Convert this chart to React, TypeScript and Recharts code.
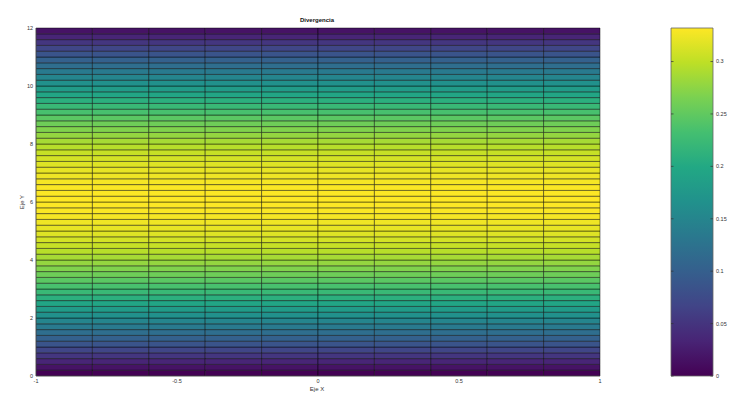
import React from 'react';
import { ComposedChart, XAxis, YAxis, ReferenceArea, ReferenceLine, Scatter } from 'recharts';

const X_EDGES = [-1, -0.8, -0.6, -0.4, -0.2, 0, 0.2, 0.4, 0.6, 0.8, 1];
const Y_EDGES = [
  0, 0.2, 0.4, 0.6, 0.8, 1, 1.2, 1.4, 1.6, 1.8, 2, 2.2, 2.4, 2.6, 2.8, 3, 3.2, 3.4, 3.6, 3.8,
  4, 4.2, 4.4, 4.6, 4.8, 5, 5.2, 5.4, 5.6, 5.8, 6, 6.2, 6.4, 6.6, 6.8, 7, 7.2, 7.4, 7.6, 7.8,
  8, 8.2, 8.4, 8.6, 8.8, 9, 9.2, 9.4, 9.6, 9.8, 10, 10.2, 10.4, 10.6, 10.8, 11, 11.2, 11.4, 11.6, 11.8, 12,
];
// divergence value per row (same for every column)
const ROW_VALUES = [
  0, 0.0174, 0.0347, 0.0519, 0.069, 0.0859, 0.1026, 0.119, 0.135, 0.1507,
  0.166, 0.1808, 0.1951, 0.2089, 0.2221, 0.2348, 0.2467, 0.258, 0.2686, 0.2784,
  0.2875, 0.2958, 0.3033, 0.31, 0.3158, 0.3207, 0.3247, 0.3279, 0.3302, 0.3315,
  0.332, 0.3315, 0.3302, 0.3279, 0.3247, 0.3207, 0.3158, 0.31, 0.3033, 0.2958,
  0.2875, 0.2784, 0.2686, 0.258, 0.2467, 0.2348, 0.2221, 0.2089, 0.1951, 0.1808,
  0.166, 0.1507, 0.135, 0.119, 0.1026, 0.0859, 0.069, 0.0519, 0.0347, 0.0174,
];
const X_TICKS = [-1, -0.5, 0, 0.5, 1];
const Y_TICKS = [0, 2, 4, 6, 8, 10, 12];
const CBAR_TICKS = [0, 0.05, 0.1, 0.15, 0.2, 0.25, 0.3];
const C_MIN = 0;
const C_MAX = 0.332;

const VIRIDIS = ['#440154', '#482475', '#414487', '#355f8d', '#2a788e', '#21918c', '#22a884', '#44bf70', '#7ad151', '#bddf26', '#fde725'];

function hexToRgb(h: string) {
  return [parseInt(h.slice(1, 3), 16), parseInt(h.slice(3, 5), 16), parseInt(h.slice(5, 7), 16)];
}
function viridis(t: number) {
  const c = Math.max(0, Math.min(1, t)) * (VIRIDIS.length - 1);
  const i = Math.min(Math.floor(c), VIRIDIS.length - 2);
  const f = c - i;
  const a = hexToRgb(VIRIDIS[i]);
  const b = hexToRgb(VIRIDIS[i + 1]);
  const r = a.map((v, k) => Math.round(v + (b[k] - v) * f));
  return `rgb(${r[0]},${r[1]},${r[2]})`;
}

const FONT = '"Liberation Sans", Arial, sans-serif';
const W = 750;
const H = 405;
const corners = [{ x: -1, y: 0 }, { x: 1, y: 12 }];
const cbCorners = [{ x: 0, y: C_MIN }, { x: 1, y: C_MAX }];

export default function App() {
  const cells: React.ReactNode[] = [];
  for (let i = 0; i < ROW_VALUES.length; i++) {
    const fill = viridis((ROW_VALUES[i] - C_MIN) / (C_MAX - C_MIN));
    for (let j = 0; j < X_EDGES.length - 1; j++) {
      cells.push(
        <ReferenceArea
          key={`c-${i}-${j}`}
          x1={X_EDGES[j]}
          x2={X_EDGES[j + 1]}
          y1={Y_EDGES[i]}
          y2={Y_EDGES[i + 1]}
          fill={fill}
          fillOpacity={1}
          stroke="#000"
          strokeOpacity={0.6}
          strokeWidth={0.75}
          ifOverflow="visible"
        />
      );
    }
  }
  const tickStyle = { fontSize: 5.5, fill: '#333', fontFamily: FONT };
  return (
    <div style={{ position: 'absolute', left: 0, top: 0, width: W, height: H, background: '#fff' }}>
      <div style={{ position: 'absolute', left: 0, top: 0 }}>
        <ComposedChart width={W} height={H} margin={{ top: 28, right: 150, bottom: 9, left: 6 }}>
          <XAxis
            type="number"
            dataKey="x"
            domain={[-1, 1]}
            ticks={X_TICKS}
            allowDataOverflow
            height={20}
            tickLine={false}
            tickSize={3}
            tickMargin={0}
            axisLine={{ stroke: '#666', strokeWidth: 0.6 }}
            tick={tickStyle}
          />
          <YAxis
            type="number"
            dataKey="y"
            domain={[0, 12]}
            ticks={Y_TICKS}
            allowDataOverflow
            width={30}
            tickLine={false}
            tickSize={3}
            tickMargin={0}
            axisLine={{ stroke: '#666', strokeWidth: 0.6 }}
            tick={tickStyle}
          />
          {cells}
          <Scatter data={corners} fill="none" isAnimationActive={false} />
        </ComposedChart>
      </div>
      <div style={{ position: 'absolute', left: 0, top: 0 }}>
        <ComposedChart width={W} height={H} margin={{ top: 28, right: 7, bottom: 29, left: 671 }}>
          <defs>
            <linearGradient id="viridisGrad" x1="0" y1="1" x2="0" y2="0">
              {VIRIDIS.map((c, k) => (
                <stop key={k} offset={`${(k / (VIRIDIS.length - 1)) * 100}%`} stopColor={c} />
              ))}
            </linearGradient>
          </defs>
          <XAxis type="number" dataKey="x" domain={[0, 1]} hide allowDataOverflow />
          <YAxis
            type="number"
            dataKey="y"
            orientation="right"
            domain={[C_MIN, C_MAX]}
            ticks={CBAR_TICKS}
            allowDataOverflow
            width={30}
            tickLine={false}
            tickSize={3}
            tickMargin={0}
            axisLine={false}
            tick={{ ...tickStyle, textAnchor: 'start' }}
          />
          <ReferenceArea
            x1={0}
            x2={1}
            y1={C_MIN}
            y2={C_MAX}
            fill="url(#viridisGrad)"
            fillOpacity={1}
            stroke="#666"
            strokeWidth={0.8}
            ifOverflow="visible"
          />
          {CBAR_TICKS.map((v) => (
            <ReferenceLine key={`l${v}`} segment={[{ x: 0, y: v }, { x: 0.06, y: v }]} stroke="#333" strokeWidth={0.7} ifOverflow="visible" />
          ))}
          {CBAR_TICKS.map((v) => (
            <ReferenceLine key={`r${v}`} segment={[{ x: 0.94, y: v }, { x: 1, y: v }]} stroke="#333" strokeWidth={0.7} ifOverflow="visible" />
          ))}
          <Scatter data={cbCorners} fill="none" isAnimationActive={false} />
        </ComposedChart>
      </div>
      <div style={{ position: 'absolute', left: 267, width: 100, top: 16, textAlign: 'center', fontFamily: FONT, fontSize: 6, fontWeight: 'bold', color: '#111', lineHeight: '8px' }}>
        Divergencia
      </div>
      <div style={{ position: 'absolute', left: 267, width: 100, top: 385, textAlign: 'center', fontFamily: FONT, fontSize: 6, color: '#333', lineHeight: '8px' }}>
        Eje X
      </div>
      <div style={{ position: 'absolute', left: 22, top: 202, width: 0, height: 0 }}>
        <div style={{ position: 'absolute', left: -30, top: -4, width: 60, textAlign: 'center', transform: 'rotate(-90deg)', fontFamily: FONT, fontSize: 6, color: '#333', lineHeight: '8px' }}>
          Eje Y
        </div>
      </div>
    </div>
  );
}
